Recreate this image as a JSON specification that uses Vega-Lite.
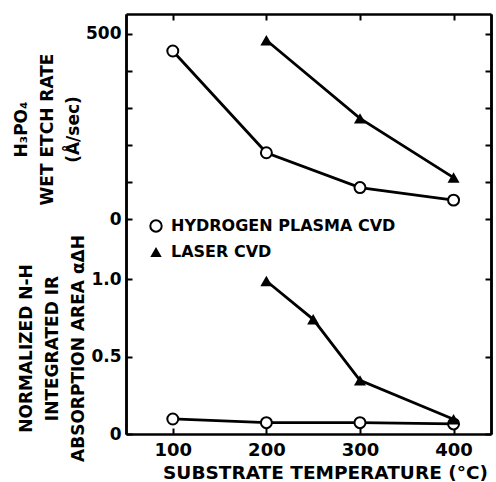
{
  "$schema": "https://vega.github.io/schema/vega-lite/v6.json",
  "background": "white",
  "padding": {"left": 12, "top": 13, "right": 5, "bottom": 0},
  "width": 365,
  "height": 420,
  "config": {
    "view": {"stroke": null},
    "font": "DejaVu Sans",
    "axis": {
      "grid": false,
      "domainColor": "black",
      "domainWidth": 2.5,
      "tickColor": "black",
      "tickWidth": 2,
      "tickSize": -6,
      "labelPadding": 11,
      "labelFont": "DejaVu Sans",
      "labelFontSize": 17,
      "labelFontWeight": "bold",
      "labelColor": "black",
      "titleFont": "DejaVu Sans",
      "titleFontSize": 17,
      "titleFontWeight": "bold",
      "titleColor": "black",
      "titleLineHeight": 26
    },
    "legend": {
      "labelFont": "DejaVu Sans",
      "labelFontSize": 16,
      "labelFontWeight": "bold",
      "labelColor": "black",
      "labelLimit": 400,
      "symbolSize": 130
    }
  },
  "data": {
    "values": [
      {"temp": 100, "series": "HYDROGEN PLASMA CVD", "etch": 454, "nh": 0.097},
      {"temp": 200, "series": "HYDROGEN PLASMA CVD", "etch": 179, "nh": 0.073},
      {"temp": 300, "series": "HYDROGEN PLASMA CVD", "etch": 85, "nh": 0.073},
      {"temp": 400, "series": "HYDROGEN PLASMA CVD", "etch": 51, "nh": 0.065},
      {"temp": 200, "series": "LASER CVD", "etch": 483, "nh": 0.987},
      {"temp": 250, "series": "LASER CVD", "etch": null, "nh": 0.74},
      {"temp": 300, "series": "LASER CVD", "etch": 272, "nh": 0.346},
      {"temp": 400, "series": "LASER CVD", "etch": 112, "nh": 0.095}
    ]
  },
  "resolve": {
    "scale": {"y": "independent"},
    "axis": {"y": "independent", "x": "independent"}
  },
  "layer": [
    {
      "transform": [{"filter": "datum.etch != null"}],
      "mark": {"type": "line", "color": "black", "strokeWidth": 2.8},
      "encoding": {
        "x": {
          "field": "temp",
          "type": "quantitative",
          "scale": {"domain": [50, 440], "nice": false, "zero": false},
          "axis": {
            "orient": "bottom",
            "values": [100, 200, 300, 400],
            "labelFontSize": 18,
            "labelPadding": 13,
            "title": "SUBSTRATE TEMPERATURE (°C)",
            "titleFontSize": 18.5,
            "titlePadding": 4,
            "titleX": 199
          }
        },
        "y": {
          "field": "etch",
          "type": "quantitative",
          "scale": {"domain": [-581, 554], "nice": false, "zero": false},
          "axis": {
            "orient": "left",
            "values": [0, 100, 200, 300, 400, 500],
            "labelExpr": "datum.value == 0 || datum.value == 500 ? datum.label : ''",
            "title": ["H₃PO₄", "WET ETCH RATE", "(Å/sec)"],
            "titlePadding": 3,
            "titleY": 115
          }
        },
        "detail": {"field": "series"}
      }
    },
    {
      "transform": [{"filter": "datum.etch != null && datum.series === 'HYDROGEN PLASMA CVD'"}],
      "mark": {"type": "point", "filled": false, "fill": "white", "color": "black", "strokeWidth": 2, "opacity": 1, "size": 120},
      "encoding": {
        "x": {
          "field": "temp",
          "type": "quantitative",
          "axis": {"orient": "top", "values": [100, 200, 300, 400], "labels": false, "title": null}
        },
        "y": {
          "field": "etch",
          "type": "quantitative",
          "scale": {"domain": [-581, 554], "nice": false, "zero": false},
          "axis": {"orient": "right", "values": [0, 100, 200, 300, 400, 500], "labels": false, "title": null}
        },
        "shape": {
          "field": "series",
          "type": "nominal",
          "scale": {"domain": ["HYDROGEN PLASMA CVD"], "range": ["circle"]},
          "legend": {"orient": "none", "legendX": 22, "legendY": 204, "title": null, "labelOffset": 7, "symbolStrokeWidth": 2}
        }
      }
    },
    {
      "transform": [{"filter": "datum.etch != null && datum.series === 'LASER CVD'"}],
      "mark": {"type": "point", "filled": true, "shape": "triangle-up", "color": "black", "opacity": 1, "size": 145},
      "encoding": {
        "x": {"field": "temp", "type": "quantitative", "axis": null},
        "y": {
          "field": "etch",
          "type": "quantitative",
          "scale": {"domain": [-581, 554], "nice": false, "zero": false},
          "axis": null
        },
        "fill": {
          "field": "series",
          "type": "nominal",
          "scale": {"domain": ["LASER CVD"], "range": ["black"]},
          "legend": {"orient": "none", "legendX": 22, "legendY": 230, "title": null, "labelOffset": 7, "symbolType": "triangle-up"}
        }
      }
    },
    {
      "mark": {"type": "line", "color": "black", "strokeWidth": 2.8},
      "encoding": {
        "x": {"field": "temp", "type": "quantitative", "axis": null},
        "y": {
          "field": "nh",
          "type": "quantitative",
          "scale": {"domain": [0, 2.71], "nice": false, "zero": false},
          "axis": {
            "orient": "left",
            "values": [0, 0.5, 1],
            "labelExpr": "datum.value == 0 ? '0' : format(datum.value, '.1f')",
            "title": ["NORMALIZED N-H", "INTEGRATED IR", "ABSORPTION AREA αΔH"],
            "titlePadding": 3,
            "titleY": 334
          }
        },
        "detail": {"field": "series"}
      }
    },
    {
      "transform": [{"filter": "datum.series === 'HYDROGEN PLASMA CVD'"}],
      "mark": {"type": "point", "filled": false, "fill": "white", "color": "black", "strokeWidth": 2, "opacity": 1, "size": 120},
      "encoding": {
        "x": {"field": "temp", "type": "quantitative", "axis": null},
        "y": {
          "field": "nh",
          "type": "quantitative",
          "scale": {"domain": [0, 2.71], "nice": false, "zero": false},
          "axis": {"orient": "right", "values": [0, 0.5, 1], "labels": false, "title": null}
        },
        "shape": {
          "field": "series",
          "type": "nominal",
          "scale": {"domain": ["HYDROGEN PLASMA CVD"], "range": ["circle"]},
          "legend": {"orient": "none", "legendX": 22, "legendY": 204, "title": null, "labelOffset": 7, "symbolStrokeWidth": 2}
        }
      }
    },
    {
      "transform": [{"filter": "datum.series === 'LASER CVD'"}],
      "mark": {"type": "point", "filled": true, "shape": "triangle-up", "color": "black", "opacity": 1, "size": 145},
      "encoding": {
        "x": {"field": "temp", "type": "quantitative", "axis": null},
        "y": {
          "field": "nh",
          "type": "quantitative",
          "scale": {"domain": [0, 2.71], "nice": false, "zero": false},
          "axis": null
        },
        "fill": {
          "field": "series",
          "type": "nominal",
          "scale": {"domain": ["LASER CVD"], "range": ["black"]},
          "legend": {"orient": "none", "legendX": 22, "legendY": 230, "title": null, "labelOffset": 7, "symbolType": "triangle-up"}
        }
      }
    }
  ]
}
